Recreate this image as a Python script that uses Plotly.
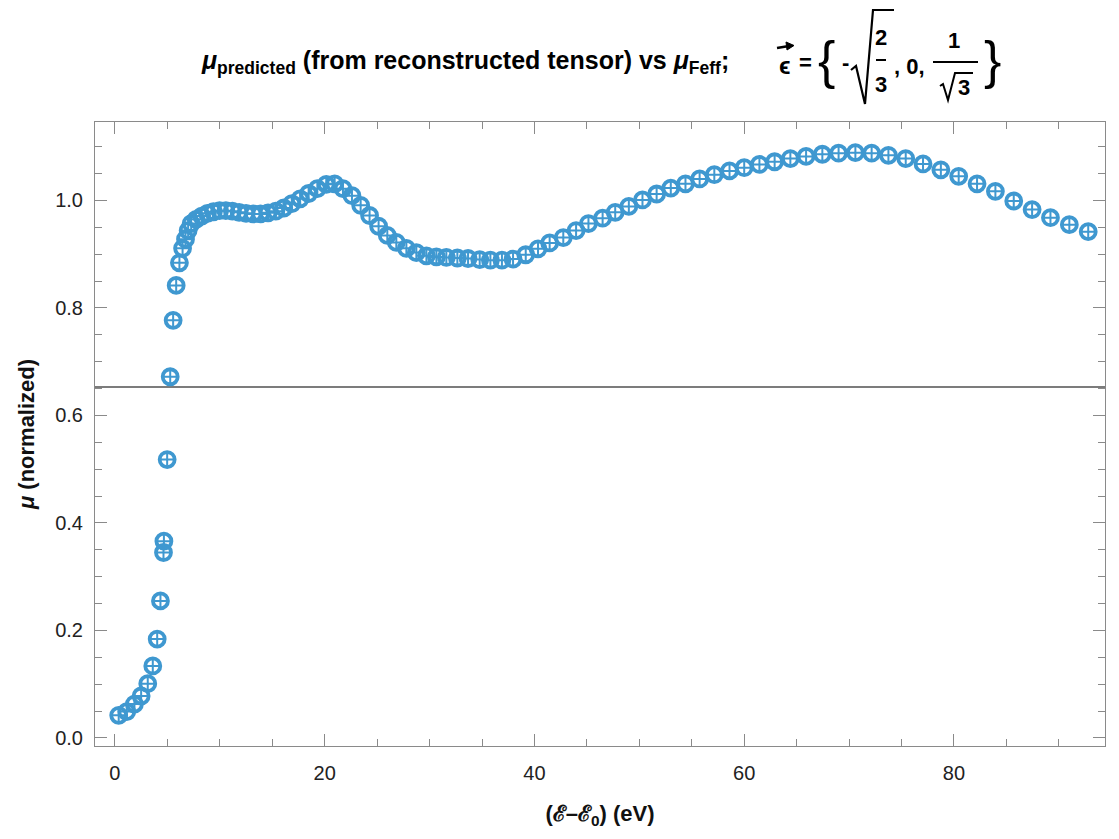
import plotly.graph_objects as go

# ---------------- data ----------------
energy_eV = [0.36, 1.13, 1.86, 2.5, 3.13, 3.61, 4.03, 4.34, 4.63, 4.67, 4.98, 5.27, 5.55, 5.84,
             6.15, 6.45, 6.73, 6.98, 7.27, 7.74, 8.27, 8.82, 9.39, 9.98, 10.58, 11.2, 11.84,
             12.5, 13.18, 13.88, 14.6, 15.34, 16.1, 16.87, 17.66, 18.47, 19.3, 20.15, 20.95,
             21.74, 22.6, 23.43, 24.28, 25.14, 25.97, 26.83, 27.79, 28.74, 29.7, 30.65, 31.6,
             32.65, 33.67, 34.78, 35.8, 36.9, 37.96, 39.17, 40.34, 41.45, 42.75, 43.97, 45.15,
             46.5, 47.7, 49.0, 50.3, 51.65, 53.0, 54.4, 55.75, 57.15, 58.6, 60.0, 61.45, 62.9,
             64.4, 65.9, 67.45, 69.0, 70.6, 72.15, 73.75, 75.4, 77.05, 78.75, 80.45, 82.2,
             83.95, 85.7, 87.45, 89.2, 91.0, 92.8]

mu_feff = [0.042, 0.049, 0.063, 0.078, 0.101, 0.134, 0.184, 0.255, 0.345, 0.366, 0.518, 0.672,
           0.777, 0.842, 0.884, 0.911, 0.928, 0.944, 0.957, 0.965, 0.971, 0.976, 0.979, 0.981,
           0.981, 0.980, 0.978, 0.976, 0.975, 0.975, 0.977, 0.980, 0.986, 0.994, 1.003, 1.013,
           1.022, 1.030, 1.031, 1.022, 1.009, 0.991, 0.972, 0.952, 0.935, 0.922, 0.911, 0.903,
           0.897, 0.895, 0.894, 0.893, 0.892, 0.890, 0.889, 0.889, 0.891, 0.899, 0.910, 0.921,
           0.931, 0.944, 0.957, 0.967, 0.978, 0.989, 1.001, 1.012, 1.023, 1.031, 1.040, 1.048,
           1.055, 1.061, 1.067, 1.072, 1.078, 1.082, 1.086, 1.088, 1.089, 1.088, 1.084, 1.078,
           1.068, 1.057, 1.045, 1.031, 1.017, 0.999, 0.983, 0.968, 0.955, 0.942]

# predicted values coincide with the FEFF values at this resolution
mu_predicted = list(mu_feff)

x_tick_values = [0, 20, 40, 60, 80]
y_tick_values = [0.0, 0.2, 0.4, 0.6, 0.8, 1.0]
axis_origin_mu = 0.653

# ---------------- styling ----------------
BLUE = "#3f98d0"
FRAME = "#8a8a8a"
FONT = "Liberation Sans Narrow, Arial Narrow, Liberation Sans, Arial, sans-serif"
W, H = 1119, 839
L, R, T, B = 95, 14, 122, 93

def px(xp):
    return (xp - L) / (W - L - R)

def py(yp):
    return (H - B - yp) / (H - T - B)

fig = go.Figure()
fig.add_trace(go.Scatter(
    x=energy_eV, y=mu_feff, mode="markers", name="μ Feff",
    marker=dict(symbol="circle-open", size=15, color=BLUE,
                line=dict(width=3.8, color=BLUE)),
    showlegend=False))
fig.add_trace(go.Scatter(
    x=energy_eV, y=mu_predicted, mode="markers", name="μ predicted",
    marker=dict(symbol="cross-thin", size=9, color=BLUE,
                line=dict(width=2, color=BLUE)),
    showlegend=False))

fig.add_shape(type="line", xref="paper", x0=0, x1=1, yref="y",
              y0=axis_origin_mu, y1=axis_origin_mu,
              line=dict(color="#505050", width=1.5), layer="below")

axis_common = dict(
    showline=True, linecolor=FRAME, linewidth=1, mirror="allticks",
    ticks="inside", ticklen=12, tickwidth=1, tickcolor=FRAME,
    showgrid=False, zeroline=False,
    tickfont=dict(family=FONT, size=20, color="#222222"),
)

fig.update_xaxes(
    range=[-1.9, 94.4], tickvals=x_tick_values,
    minor=dict(dtick=5, tick0=0, ticklen=7, tickcolor=FRAME, ticks="inside", showgrid=False),
    ticklabelstandoff=9,
    title=dict(text="<b>(ℰ–ℰ<sub>0</sub>) (eV)</b>",
               font=dict(family=FONT, size=22, color="#111111"), standoff=22),
    **axis_common)
fig.update_yaxes(
    range=[-0.015, 1.146], tickvals=y_tick_values, tickformat=".1f",
    minor=dict(dtick=0.05, tick0=0, ticklen=7, tickcolor=FRAME, ticks="inside", showgrid=False),
    ticklabelstandoff=7,
    title=dict(text="<b><i>μ</i> (normalized)</b>",
               font=dict(family=FONT, size=22, color="#111111"), standoff=14),
    **axis_common)

# ---------------- title built from text pieces ----------------
ann = []
def add_text(text, xp, yp, size=22, xanchor="center"):
    ann.append(dict(text=text, x=px(xp), y=py(yp), xref="paper", yref="paper",
                    xanchor=xanchor, yanchor="middle", showarrow=False,
                    font=dict(family=FONT, size=size, color="#000000")))

add_text("<b><i>μ</i><sub>predicted</sub> (from reconstructed tensor) vs <i>μ</i><sub>Feff</sub>;</b>",
         199, 62, size=25, xanchor="left")
add_text("<b>ϵ</b>", 784, 65, size=24)
add_text("<b>=</b>", 805, 63)
add_text("{", 826, 60, size=52)
add_text("<b>-</b>", 845, 63)
add_text("<b>2</b>", 881, 37)
add_text("<b>3</b>", 881, 84)
add_text("<b>, 0,</b>", 909, 66)
add_text("<b>1</b>", 954, 40)
add_text("<b>3</b>", 964, 88)
add_text("}", 992, 60, size=52)

shapes = []
def path(points, width=2.2, fill=None, close=False):
    d = "M " + " L ".join(f"{px(a):.5f},{py(b):.5f}" for a, b in points)
    if close:
        d += " Z"
    s = dict(type="path", path=d, xref="paper", yref="paper",
             line=dict(color="#000000", width=width))
    if fill:
        s["fillcolor"] = fill
    shapes.append(s)
# vector arrow above epsilon
path([(777, 48), (789, 46)], width=2.6)
path([(786, 42), (794, 45.5), (787, 50)], width=1, fill="#000000", close=True)
# big radical around 2/3
path([(851, 70), (856, 66), (865, 104), (873, 10), (894, 10)])
# small fraction bar for 2/3
path([(876, 60), (886, 60)], width=2)
# fraction bar for 1/sqrt3
path([(933, 62), (978, 62)], width=2)
# small radical around 3
path([(940, 86), (943, 84), (948, 100), (955, 73), (973, 73)], width=2)

for s in shapes:
    fig.add_shape(**s)

fig.update_layout(
    width=W, height=H, margin=dict(l=L, r=R, t=T, b=B, autoexpand=False),
    paper_bgcolor="white", plot_bgcolor="white",
    annotations=ann, font=dict(family=FONT),
)

fig.write_html("out.html")
